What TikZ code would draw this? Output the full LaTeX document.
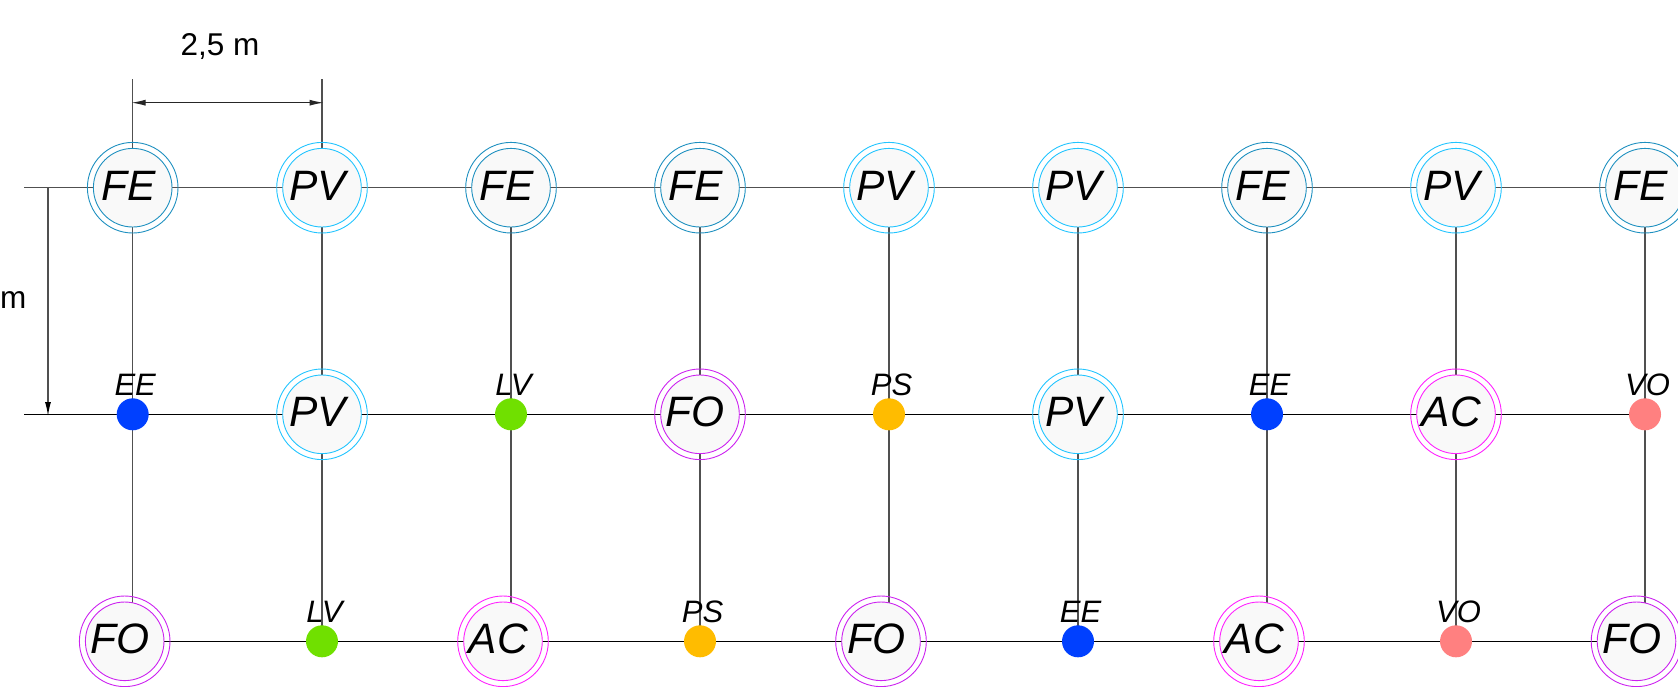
\documentclass[tikz,border=0pt]{standalone}
\usepackage{fontspec}
\setmainfont{Liberation Sans}
\usetikzlibrary{backgrounds,arrows.meta}
\definecolor{feC}{HTML}{1E90C0}
\definecolor{pvC}{HTML}{22C4FF}
\definecolor{foC}{HTML}{CC22F0}
\definecolor{acC}{HTML}{FF22FF}
\definecolor{eeC}{HTML}{0040FF}
\definecolor{lvC}{HTML}{70E000}
\definecolor{psC}{HTML}{FFBC00}
\definecolor{voC}{HTML}{FF8080}
\definecolor{gridC}{HTML}{505050}
\definecolor{fillC}{HTML}{F9F9F9}
\tikzset{
  innerring/.style={circle,draw=#1,fill=fillC,line width=0.9pt,minimum size=78.6pt,inner sep=0pt,outer sep=0pt},
  outerring/.style={circle,draw=#1,line width=0.9pt,minimum size=90.6pt,inner sep=0pt,outer sep=0pt},
  bigtext/.style={anchor=base,inner sep=0pt,font=\fontsize{42.5}{48}\selectfont\itshape},
  smalltext/.style={anchor=base,inner sep=0pt,font=\fontsize{31}{36}\selectfont\itshape},
  dimtext/.style={anchor=base,inner sep=0pt,font=\fontsize{31.5}{36}\selectfont},
  dot/.style={circle,fill=#1,minimum size=32pt,inner sep=0pt,outer sep=0pt},
  gridgray/.style={draw=gridC,line width=1.2pt},
  gridblack/.style={draw=black,line width=1.1pt},
  dimline/.style={draw=black!85,line width=1pt,{Latex[length=14pt,width=6pt]}-{Latex[length=14pt,width=6pt]}},
  dimdown/.style={draw=gridC,line width=1.2pt,-{Latex[length=14pt,width=6pt,black]}}
}
% name, x, y, text, colour
\newcommand{\ringed}[5]{%
  \node[innerring=#5] (#1) at (#2,#3) {};
  \node[outerring=#5] (#1o) at (#1.center) {};
  \node[bigtext] (#1t) at ([xshift=-4.5pt,yshift=-12.3pt]#1.center) {#4};
}
\newcommand{\spotted}[5]{%
  \node[dot=#5] (#1) at (#2,#3) {};
  \node[smalltext] (#1t) at ([xshift=2.5pt,yshift=19.3pt]#1.center) {#4};
}
\begin{document}
\begin{tikzpicture}[x=1pt,y=-1pt]
\useasboundingbox (0,0) rectangle (1678,686);
% row 1
\ringed{a1}{132.7}{187.7}{FE}{feC}
\ringed{a2}{322}{187.7}{PV}{pvC}
\ringed{a3}{511}{187.7}{FE}{feC}
\ringed{a4}{700}{187.7}{FE}{feC}
\ringed{a5}{889}{187.7}{PV}{pvC}
\ringed{a6}{1078}{187.7}{PV}{pvC}
\ringed{a7}{1267}{187.7}{FE}{feC}
\ringed{a8}{1456}{187.7}{PV}{pvC}
\ringed{a9}{1645}{187.7}{FE}{feC}
% row 2
\spotted{b1}{132.7}{414.3}{EE}{eeC}
\ringed{b2}{322}{414.3}{PV}{pvC}
\spotted{b3}{511}{414.3}{LV}{lvC}
\ringed{b4}{700}{414.3}{FO}{foC}
\spotted{b5}{889}{414.3}{PS}{psC}
\ringed{b6}{1078}{414.3}{PV}{pvC}
\spotted{b7}{1267}{414.3}{EE}{eeC}
\ringed{b8}{1456}{414.3}{AC}{acC}
\spotted{b9}{1645}{414.3}{VO}{voC}
% row 3
\ringed{c1}{124.7}{641.3}{FO}{foC}
\spotted{c2}{322}{641.3}{LV}{lvC}
\ringed{c3}{503}{641.3}{AC}{acC}
\spotted{c4}{700}{641.3}{PS}{psC}
\ringed{c5}{881}{641.3}{FO}{foC}
\spotted{c6}{1078}{641.3}{EE}{eeC}
\ringed{c7}{1259}{641.3}{AC}{acC}
\spotted{c8}{1456}{641.3}{VO}{voC}
\ringed{c9}{1636.5}{641.3}{FO}{foC}
% free ends
\coordinate (leftA) at (24,187.7);
\coordinate (leftB) at (24,414.3);
\coordinate (topA) at (132.7,79);
\coordinate (topB) at (322,79);
\coordinate (dimL) at (131.5,102.7);
\coordinate (dimR) at (323.5,102.7);
\coordinate (dimT) at (48,187.7);
\coordinate (dimB) at (48,416);
\node[dimtext] (dimh) at (220,55) {2,5 m};
\node[dimtext,anchor=base west] (dimv) at (0,308) {m};
\begin{pgfonlayer}{background}
  \draw[gridgray] (leftA) -- (a1.center) -- (a2.center) -- (a3.center) -- (a4.center) -- (a5.center) -- (a6.center) -- (a7.center) -- (a8.center) -- (a9.center);
  \draw[gridblack] (leftB) -- (b1.center) -- (b2.center) -- (b3.center) -- (b4.center) -- (b5.center) -- (b6.center) -- (b7.center) -- (b8.center) -- (b9.center);
  \draw[gridblack] (c1.center) -- (c2.center) -- (c3.center) -- (c4.center) -- (c5.center) -- (c6.center) -- (c7.center) -- (c8.center) -- (c9.center);
  \foreach \k in {1,...,9}{
    \draw[gridgray] (a\k.center) -- (b\k.center);
    \draw[gridgray] (b\k.center) -- (b\k.center |- c\k.center);
  }
  \draw[gridgray] (topA) -- (a1.center);
  \draw[gridgray] (topB) -- (a2.center);
\end{pgfonlayer}
\draw[dimline] (dimL) -- (dimR);
\draw[dimdown] (dimT) -- (dimB);
\end{tikzpicture}
\end{document}
